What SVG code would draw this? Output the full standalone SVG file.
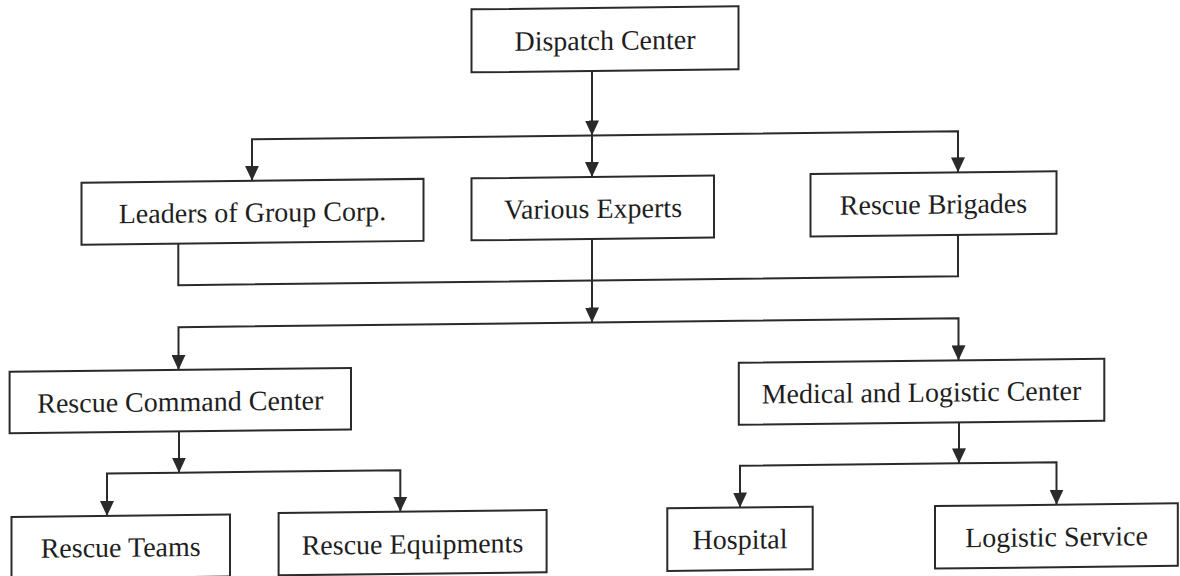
<svg xmlns="http://www.w3.org/2000/svg" width="1180" height="576" viewBox="0 0 1180 576">
<style>
.box{fill:#fff;stroke:#2a2a2a;stroke-width:2}
.lbl{font-family:"Liberation Serif","Times New Roman",serif;font-size:28px;fill:#1e1e1e;text-anchor:middle}
.con{fill:none;stroke:#2a2a2a;stroke-width:2}
.arr{marker-end:url(#ah)}
</style>
<defs>
<marker id="ah" viewBox="0 0 15 14" refX="15" refY="7" markerWidth="15" markerHeight="14" markerUnits="userSpaceOnUse" orient="auto">
<path d="M0,0 L15,7 L0,14 z" fill="#2a2a2a"/>
</marker>
</defs>
<rect width="1180" height="576" fill="#fff"/>
<g transform="matrix(1,-0.0113,0,1,0,6.667)">
<g id="connectors">
<path class="con arr" d="M592,71 V135.5"/>
<path class="con arr" d="M592,135.5 H252 V177"/>
<path class="con arr" d="M592,135.5 V177"/>
<path class="con arr" d="M592,135.5 H958 V176.5"/>
<path class="con" d="M178.3,239 V280.5 H958 V239"/>
<path class="con arr" d="M592,239 V322.5"/>
<path class="con arr" d="M592,322.5 H178.5 V365.3"/>
<path class="con arr" d="M592,322.5 H958.5 V364.5"/>
<path class="con arr" d="M179,426.8 V468"/>
<path class="con arr" d="M179,468 H107 V510.5"/>
<path class="con arr" d="M179,468 H400.3 V509.5"/>
<path class="con arr" d="M959,426.5 V467.5"/>
<path class="con arr" d="M959,467.5 H740 V509.2"/>
<path class="con arr" d="M959,467.5 H1056.5 V510"/>
</g>
<g id="dispatch"><rect class="box" x="471.5" y="8" width="267" height="63"/><text class="lbl" x="605" y="50">Dispatch Center</text></g>
<g id="leaders"><rect class="box" x="81.5" y="177" width="342" height="62"/><text class="lbl" x="252.5" y="218">Leaders of Group Corp.</text></g>
<g id="experts"><rect class="box" x="471.5" y="177" width="242.5" height="62"/><text class="lbl" x="593" y="218">Various Experts</text></g>
<g id="brigades"><rect class="box" x="810.5" y="176.5" width="246" height="62.5"/><text class="lbl" x="933.5" y="217.5">Rescue Brigades</text></g>
<g id="command"><rect class="box" x="9.6" y="365.3" width="341.4" height="61.5"/><text class="lbl" x="180.3" y="406.5">Rescue Command Center</text></g>
<g id="medical"><rect class="box" x="738.8" y="364.5" width="365.5" height="62"/><text class="lbl" x="921.5" y="405.5">Medical and Logistic Center</text></g>
<g id="teams"><rect class="box" x="11.5" y="510.5" width="218.5" height="62"/><text class="lbl" x="120.7" y="551.5">Rescue Teams</text></g>
<g id="equipments"><rect class="box" x="278.6" y="509.5" width="268" height="62.3"/><text class="lbl" x="412.5" y="551.5">Rescue Equipments</text></g>
<g id="hospital"><rect class="box" x="667.3" y="509.2" width="145.4" height="62.6"/><text class="lbl" x="740" y="550.5">Hospital</text></g>
<g id="logistic"><rect class="box" x="935" y="510" width="242.8" height="62.5"/><text class="lbl" x="1056.5" y="551.5">Logistic Service</text></g>
</g>
</svg>
